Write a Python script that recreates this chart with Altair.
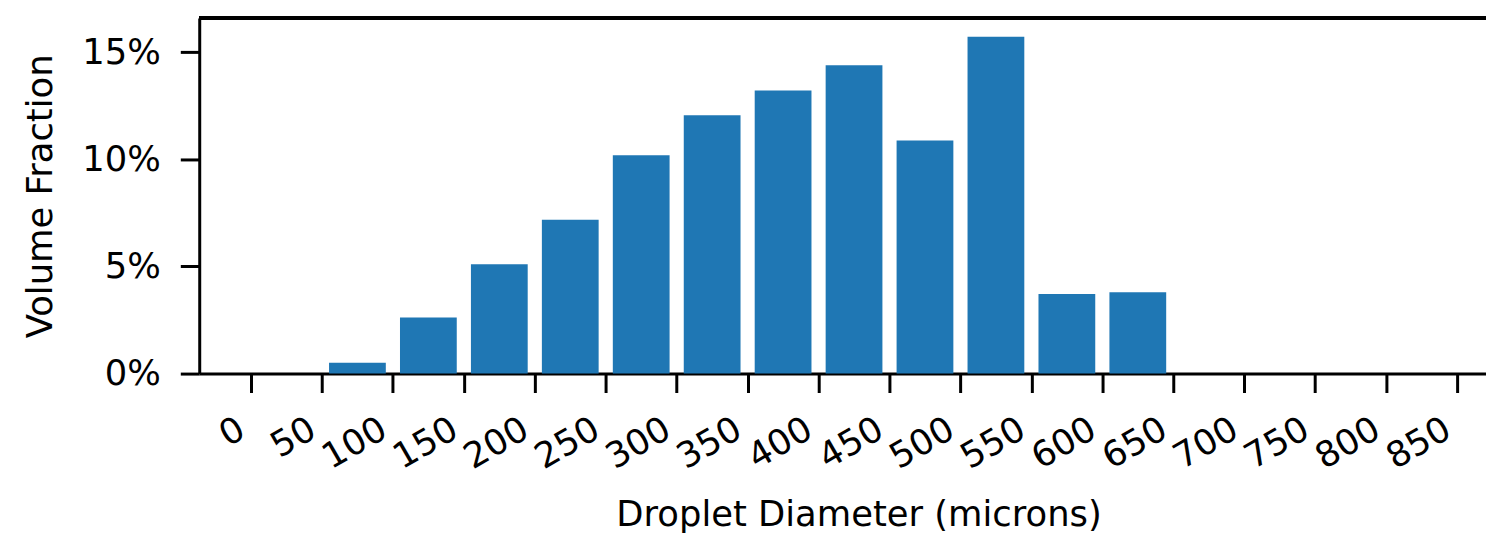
import altair as alt
import pandas as pd

# Bin starts (microns) and volume fraction (%)
bin_start = [50, 100, 150, 200, 250, 300, 350, 400, 450, 500, 550, 600]
volume_pct = [0.5, 2.62, 5.1, 7.18, 10.19, 12.06, 13.22, 14.4, 10.88, 15.73, 3.71, 3.8]
x_ticks = list(range(0, 851, 50))
y_ticks = [0, 5, 10, 15]

df = pd.DataFrame({"bin_start": bin_start, "pct": volume_pct})

W, H = 1292, 357
FONT = "DejaVu Sans"
FS = 35.5

x_scale = alt.Scale(domain=[-36.5, 870.4], nice=False, zero=False, padding=0)
y_scale = alt.Scale(domain=[0, 16.6], nice=False)

bars = alt.Chart(df).transform_calculate(
    center="datum.bin_start + 25"
).mark_bar(color="#1f77b4", size=57).encode(
    x=alt.X("center:Q", scale=x_scale,
            axis=alt.Axis(values=x_ticks, title="Droplet Diameter (microns)",
                          grid=False, domainColor="black", domainWidth=3,
                          tickColor="black", tickWidth=3, tickSize=19,
                          labelAngle=330, labelAlign="right", labelBaseline="top",
                          labelPadding=19, labelOffset=-18,
                          labelFont=FONT, labelFontSize=FS, labelColor="black",
                          labelOverlap=False, labelFlush=False,
                          titleFont=FONT, titleFontSize=FS, titleFontWeight="normal",
                          titleColor="black", titleX=662, titleY=153,
                          titleBaseline="alphabetic", titleAlign="center")),
    y=alt.Y("pct:Q", scale=y_scale,
            axis=alt.Axis(values=y_ticks, title="Volume Fraction",
                          labelExpr="datum.value + '%'",
                          grid=False, domainColor="black", domainWidth=3,
                          tickColor="black", tickWidth=3, tickSize=19,
                          labelPadding=20, labelFont=FONT, labelFontSize=FS,
                          labelColor="black", labelFlush=False,
                          titleFont=FONT, titleFontSize=FS, titleFontWeight="normal",
                          titleColor="black", titleX=-148, titleY=H / 2,
                          titleAngle=270, titleBaseline="alphabetic",
                          titleAlign="center")),
)

top_spine = alt.Chart(df).mark_rule(color="black", strokeWidth=3).encode(
    x=alt.value(0), x2=alt.value(W), y=alt.value(0)
)

chart = alt.layer(bars, top_spine).properties(
    width=W, height=H,
    autosize=alt.AutoSizeParams(type="none"),
    padding={"left": 192, "top": 9, "right": 0, "bottom": 160},
).configure_view(stroke=None)

chart.save("out.html", embed_options={"renderer": "svg", "actions": False})
